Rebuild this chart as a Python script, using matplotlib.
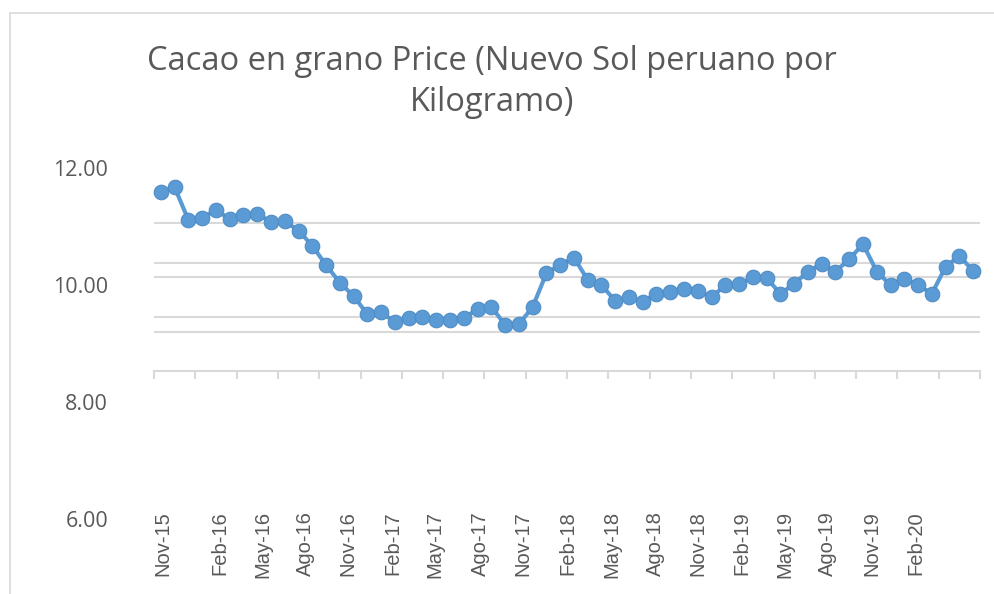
import matplotlib
matplotlib.use("Agg")
import matplotlib.pyplot as plt
from matplotlib.patches import Rectangle

# Datos: precio mensual del cacao en grano (Nov-15 .. Oct-20)
prices = [11.59, 11.67, 11.11, 11.15, 11.28, 11.13, 11.20, 11.21, 11.08, 11.09,
          10.93, 10.67, 10.34, 10.04, 9.81, 9.50, 9.53, 9.37, 9.43, 9.46,
          9.41, 9.41, 9.43, 9.59, 9.63, 9.32, 9.33, 9.62, 10.20, 10.34,
          10.47, 10.09, 10.00, 9.73, 9.79, 9.71, 9.85, 9.88, 9.93, 9.90,
          9.79, 10.00, 10.01, 10.14, 10.12, 9.85, 10.02, 10.23, 10.36, 10.23,
          10.44, 10.70, 10.23, 10.00, 10.11, 10.00, 9.85, 10.31, 10.50, 10.24]
months = list(range(len(prices)))

x_labels = ["Nov-15", "Feb-16", "May-16", "Ago-16", "Nov-16", "Feb-17", "May-17",
            "Ago-17", "Nov-17", "Feb-18", "May-18", "Ago-18", "Nov-18", "Feb-19",
            "May-19", "Ago-19", "Nov-19", "Feb-20"]
y_ticks = [6, 8, 10, 12]
y_labels = ["6.00", "8.00", "10.00", "12.00"]
grid_levels = [11.055, 10.38, 10.13, 9.46, 9.20]

# posiciones de las etiquetas (en meses), como aparecen en el original
label_pos = [0.17, 4.31, 7.43, 10.48, 13.6, 16.87, 19.92, 23.19, 26.31, 29.55,
             32.77, 35.9, 39.02, 42.2, 45.33, 48.45, 51.65, 54.84]

W, H = 994, 594
fig = plt.figure(figsize=(W / 100, H / 100), dpi=100)

# borde del gráfico
fig.patches.append(Rectangle((10 / W, -0.1), 1.2, (H - 13) / H + 0.1,
                             transform=fig.transFigure, fill=False,
                             edgecolor="#d9d9d9", lw=1.2))

# eje: x de 154 a 980 px, y de 150 a 540 px
ax = fig.add_axes([154 / W, 1 - 540 / H, 826 / W, 390 / H])
ax.set_xlim(-0.5, len(prices) - 0.5)
ax.set_ylim(12 - 372 / 58.5, 12 + 18 / 58.5)
ax.patch.set_alpha(0)

for s in ["top", "right", "left"]:
    ax.spines[s].set_visible(False)
axis_y = 8.53
ax.spines["bottom"].set_position(("data", axis_y))
ax.spines["bottom"].set_color("#d9d9d9")
ax.spines["bottom"].set_linewidth(1.5)

for g in grid_levels:
    ax.axhline(g, color="#d9d9d9", lw=1.5, zorder=1)

ax.plot(months, prices, color="#5b9bd5", lw=3, marker="o", markersize=10.5,
        markerfacecolor="#5b9bd5", markeredgecolor="#4f8cc4", markeredgewidth=0.8,
        zorder=3, clip_on=False)

# marcas cada 3 meses
ax.set_xticks([m - 0.5 for m in range(0, len(prices) + 1, 3)])
ax.tick_params(axis="x", which="major", direction="out", length=5.5, width=1.5,
               color="#d9d9d9", labelbottom=False)
ax.set_xticks(label_pos, x_labels, minor=True)
ax.tick_params(axis="x", which="minor", length=0, pad=101, labelrotation=90,
               labelsize=14.5, labelcolor="#595959")
for t in ax.get_xticklabels(minor=True):
    t.set_fontfamily("Liberation Sans")

ax.set_yticks(y_ticks, y_labels)
ax.tick_params(axis="y", length=0, pad=33, labelsize=15.5, labelcolor="#595959")
for t in ax.get_yticklabels():
    t.set_fontfamily("Open Sans")

fig.text(492 / W, 1 - 82 / H,
         "Cacao en grano Price (Nuevo Sol peruano por\nKilogramo)",
         ha="center", va="center", fontsize=23.5, color="#595959",
         family="Open Sans", linespacing=1.3)

fig.savefig("out.png", dpi=100)
